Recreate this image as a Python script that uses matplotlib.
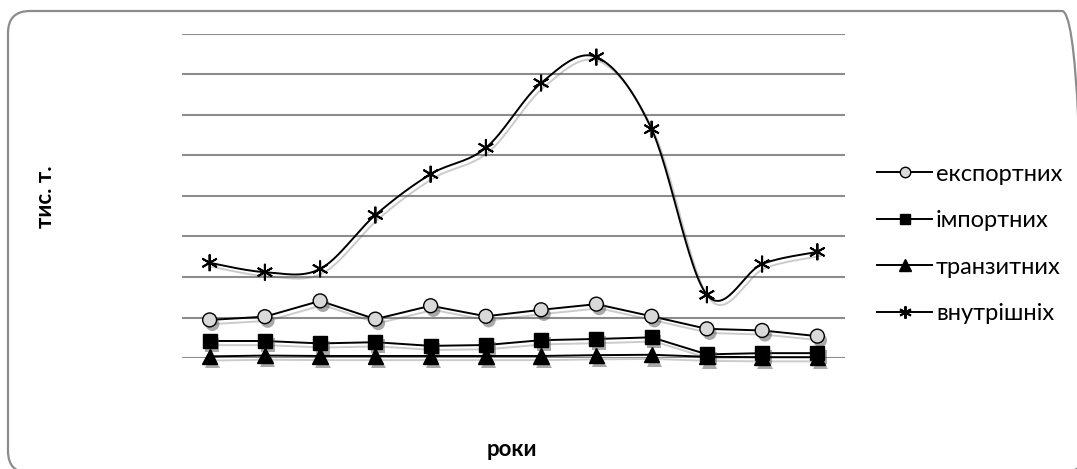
import numpy as np
import matplotlib.pyplot as plt
import matplotlib.patheffects as pe
from matplotlib.lines import Line2D
from matplotlib.patches import FancyBboxPatch

plt.rcParams['font.family'] = ['Lato', 'DejaVu Sans']

# values in gridline units (axis labels are hidden in the source)
years = list(range(1, 13))
export = [0.94, 1.02, 1.41, 0.96, 1.29, 1.03, 1.19, 1.33, 1.03, 0.72, 0.68, 0.54]
imports = [0.42, 0.42, 0.36, 0.39, 0.30, 0.32, 0.44, 0.47, 0.51, 0.09, 0.12, 0.12]
transit = [0.04, 0.06, 0.05, 0.05, 0.05, 0.05, 0.05, 0.07, 0.08, 0.03, 0.02, 0.02]
domestic = [2.35, 2.12, 2.20, 3.53, 4.54, 5.19, 6.79, 7.43, 5.65, 1.56, 2.32, 2.62]
labels = ['експортних', 'імпортних', 'транзитних', 'внутрішніх']


def smooth(x, y, n=30):
    # Catmull-Rom style bezier, like Excel's smoothed line
    x = np.asarray(x, float)
    y = np.asarray(y, float)
    px, py = [], []
    for i in range(len(x) - 1):
        i0 = max(i - 1, 0)
        i3 = min(i + 2, len(x) - 1)
        c1x = x[i] + (x[i + 1] - x[i0]) / 6
        c1y = y[i] + (y[i + 1] - y[i0]) / 6
        c2x = x[i + 1] - (x[i3] - x[i]) / 6
        c2y = y[i + 1] - (y[i3] - y[i]) / 6
        t = np.linspace(0, 1, n)
        px.extend((1 - t) ** 3 * x[i] + 3 * (1 - t) ** 2 * t * c1x + 3 * (1 - t) * t ** 2 * c2x + t ** 3 * x[i + 1])
        py.extend((1 - t) ** 3 * y[i] + 3 * (1 - t) ** 2 * t * c1y + 3 * (1 - t) * t ** 2 * c2y + t ** 3 * y[i + 1])
    return px, py


fig = plt.figure(figsize=(10.77, 4.69), dpi=100)

# chart border, drawn in pixel units on a background axes
bg = fig.add_axes([0, 0, 1, 1])
bg.set_xlim(0, 1077)
bg.set_ylim(0, 469)
bg.axis('off')
bg.add_patch(FancyBboxPatch((8, -4), 1076, 462, boxstyle='round,pad=0,rounding_size=22',
                            fill=False, edgecolor='#8c8c8c', lw=1.6, clip_on=False))

ax = fig.add_axes([182 / 1077, 1 - 358 / 469, 663 / 1077, 324 / 469])
ax.patch.set_alpha(0)

line_sh = [pe.SimpleLineShadow(offset=(2, -3), shadow_color='#555555', alpha=0.3), pe.Normal()]
mark_sh = [pe.SimplePatchShadow(offset=(2, -3), shadow_rgbFace='#555555', alpha=0.5), pe.Normal()]
lw = 1.4

series = [
    (export, 'o', '#d9d9d9', 10, False),
    (imports, 's', 'black', 10, False),
    (transit, '^', 'black', 11, False),
    (domestic, (6, 2, 0), 'none', 12, True),
]
handles = []
for vals, mk, fc, size, is_smooth in series:
    if is_smooth:
        lx, ly = smooth(years, vals)
    else:
        lx, ly = years, vals
    ax.plot(lx, ly, color='black', lw=lw, path_effects=line_sh, clip_on=False)
    ax.plot(years, vals, ls='none', marker=mk, ms=size, mfc=fc, mec='black',
            mew=1.4 if is_smooth else 1.0, path_effects=mark_sh, clip_on=False)
    handles.append(Line2D([], [], color='black', lw=lw, marker=mk, ms=size,
                          mfc=fc, mec='black', mew=1.4 if is_smooth else 1.0))

ax.set_xlim(0.5, 12.5)
ax.set_ylim(0, 8)
ax.set_yticks(range(0, 9))
ax.grid(axis='y', color='#8c8c8c', lw=1.5)
ax.set_axisbelow(True)
ax.tick_params(left=False, bottom=False, labelleft=False, labelbottom=False)
for s in ax.spines.values():
    s.set_visible(False)

fig.text(45 / 1077, 1 - 197 / 469, 'тис. т.', rotation=90, fontsize=16,
         fontweight='bold', ha='center', va='center')
fig.text(512 / 1077, 1 - 449 / 469, 'роки', fontsize=16, fontweight='bold',
         ha='center', va='center')

fig.legend(handles, labels, loc='center left',
           bbox_to_anchor=(877 / 1077, 1 - 244 / 469), frameon=False,
           fontsize=17, handlelength=2.35, handletextpad=0.15, labelspacing=1.08,
           borderpad=0, borderaxespad=0, markerscale=0.75)

fig.savefig('out.png', dpi=100)
